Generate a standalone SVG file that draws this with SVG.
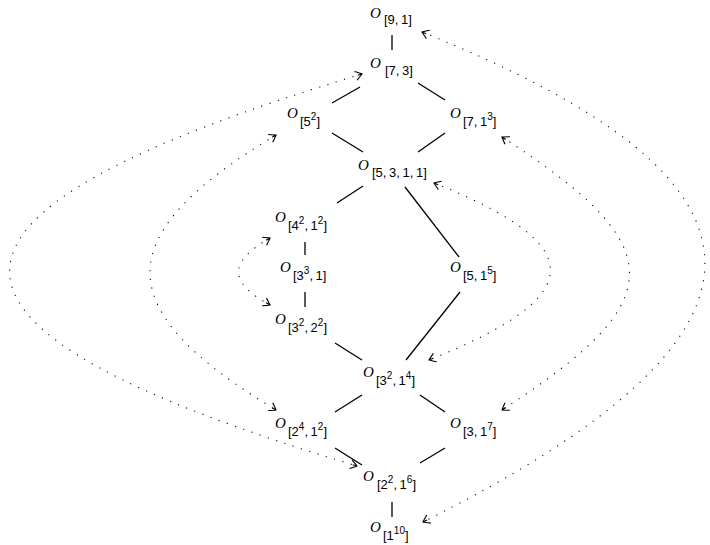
<svg xmlns="http://www.w3.org/2000/svg" width="710" height="545" viewBox="0 0 710 545">
<style>
.o{font-family:"Liberation Serif",serif;font-style:italic;font-size:15px;fill:#000}
.s{font-family:"Liberation Sans",sans-serif;font-size:13px;fill:#000}
.sup{font-size:10px}
.e{stroke:#000;stroke-width:1.3;fill:none}
.d{stroke:#111;stroke-width:1.1;fill:none;stroke-dasharray:1.2 7.5;marker-start:url(#ah);marker-end:url(#ah)}
</style>
<defs>
<marker id="ah" viewBox="-9 -6 11 12" refX="0" refY="0" markerWidth="11" markerHeight="12" markerUnits="userSpaceOnUse" orient="auto-start-reverse">
<path d="M -6.5 -4.5 Q -1.5 -1.2 0 0 Q -1.5 1.2 -6.5 4.5 M -4.5 0 L 0 0" fill="none" stroke="#000" stroke-width="1.1"/>
</marker>
</defs>
<rect width="710" height="545" fill="#fff"/>
<g id="connectors">
<line class="e" x1="392" y1="35" x2="392" y2="50"/>
<line class="e" x1="360" y1="87" x2="332" y2="103"/>
<line class="e" x1="418" y1="83" x2="445" y2="100"/>
<line class="e" x1="332" y1="133" x2="363" y2="152"/>
<line class="e" x1="445" y1="133" x2="418" y2="152"/>
<line class="e" x1="363" y1="186" x2="337" y2="203"/>
<line class="e" x1="405" y1="187" x2="459" y2="257"/>
<line class="e" x1="305" y1="242" x2="305" y2="255"/>
<line class="e" x1="305" y1="292" x2="305" y2="307"/>
<line class="e" x1="335" y1="343" x2="362" y2="360"/>
<line class="e" x1="460" y1="292" x2="406" y2="360"/>
<line class="e" x1="362" y1="395" x2="335" y2="412"/>
<line class="e" x1="420" y1="395" x2="445" y2="412"/>
<line class="e" x1="335" y1="448" x2="362" y2="465"/>
<line class="e" x1="445" y1="448" x2="420" y2="463"/>
<line class="e" x1="392" y1="502" x2="392" y2="517"/>
<path class="d" d="M 422 32 C 799 183, 799 334, 423 522"/>
<path class="d" d="M 362 74 C -107 215, -107 327, 357 466"/>
<path class="d" d="M 276 135 C 108 236, 108 309, 276 410"/>
<path class="d" d="M 502 137 C 672 247, 672 300, 502 410"/>
<path class="d" d="M 434 183 C 590 245, 590 296, 429 360"/>
<path class="d" d="M 270 238 C 228 262, 228 282, 270 305"/>
</g>
<g id="n91"><text class="o" x="370" y="18">O</text><text class="s" x="384" y="24">[9,&#8201;1]</text></g>
<g id="n73"><text class="o" x="370" y="68">O</text><text class="s" x="385" y="75">[7,&#8201;3]</text></g>
<g id="n52"><text class="o" x="287" y="118">O</text><text class="s" x="300" y="126">[5<tspan class="sup" dy="-6">2</tspan><tspan dy="6">]</tspan></text></g>
<g id="n713"><text class="o" x="450" y="118">O</text><text class="s" x="463" y="126">[7,&#8201;1<tspan class="sup" dy="-6">3</tspan><tspan dy="6">]</tspan></text></g>
<g id="n5311"><text class="o" x="358" y="170">O</text><text class="s" x="372" y="177">[5,&#8201;3,&#8201;1,&#8201;1]</text></g>
<g id="n4212"><text class="o" x="275" y="222">O</text><text class="s" x="288" y="230">[4<tspan class="sup" dy="-6">2</tspan><tspan dy="6">,&#8201;1</tspan><tspan class="sup" dy="-6">2</tspan><tspan dy="6">]</tspan></text></g>
<g id="n331"><text class="o" x="280" y="272">O</text><text class="s" x="293" y="280">[3<tspan class="sup" dy="-6">3</tspan><tspan dy="6">,&#8201;1]</tspan></text></g>
<g id="n515"><text class="o" x="450" y="272">O</text><text class="s" x="463" y="280">[5,&#8201;1<tspan class="sup" dy="-6">5</tspan><tspan dy="6">]</tspan></text></g>
<g id="n3222"><text class="o" x="275" y="324">O</text><text class="s" x="288" y="332">[3<tspan class="sup" dy="-6">2</tspan><tspan dy="6">,&#8201;2</tspan><tspan class="sup" dy="-6">2</tspan><tspan dy="6">]</tspan></text></g>
<g id="n3214"><text class="o" x="363" y="377">O</text><text class="s" x="376" y="385">[3<tspan class="sup" dy="-6">2</tspan><tspan dy="6">,&#8201;1</tspan><tspan class="sup" dy="-6">4</tspan><tspan dy="6">]</tspan></text></g>
<g id="n2412"><text class="o" x="275" y="428">O</text><text class="s" x="288" y="436">[2<tspan class="sup" dy="-6">4</tspan><tspan dy="6">,&#8201;1</tspan><tspan class="sup" dy="-6">2</tspan><tspan dy="6">]</tspan></text></g>
<g id="n317"><text class="o" x="450" y="428">O</text><text class="s" x="463" y="436">[3,&#8201;1<tspan class="sup" dy="-6">7</tspan><tspan dy="6">]</tspan></text></g>
<g id="n2216"><text class="o" x="363" y="481">O</text><text class="s" x="377" y="489">[2<tspan class="sup" dy="-6">2</tspan><tspan dy="6">,&#8201;1</tspan><tspan class="sup" dy="-6">6</tspan><tspan dy="6">]</tspan></text></g>
<g id="n110"><text class="o" x="370" y="532">O</text><text class="s" x="383" y="540">[1<tspan class="sup" dy="-6">10</tspan><tspan dy="6">]</tspan></text></g>
</svg>
